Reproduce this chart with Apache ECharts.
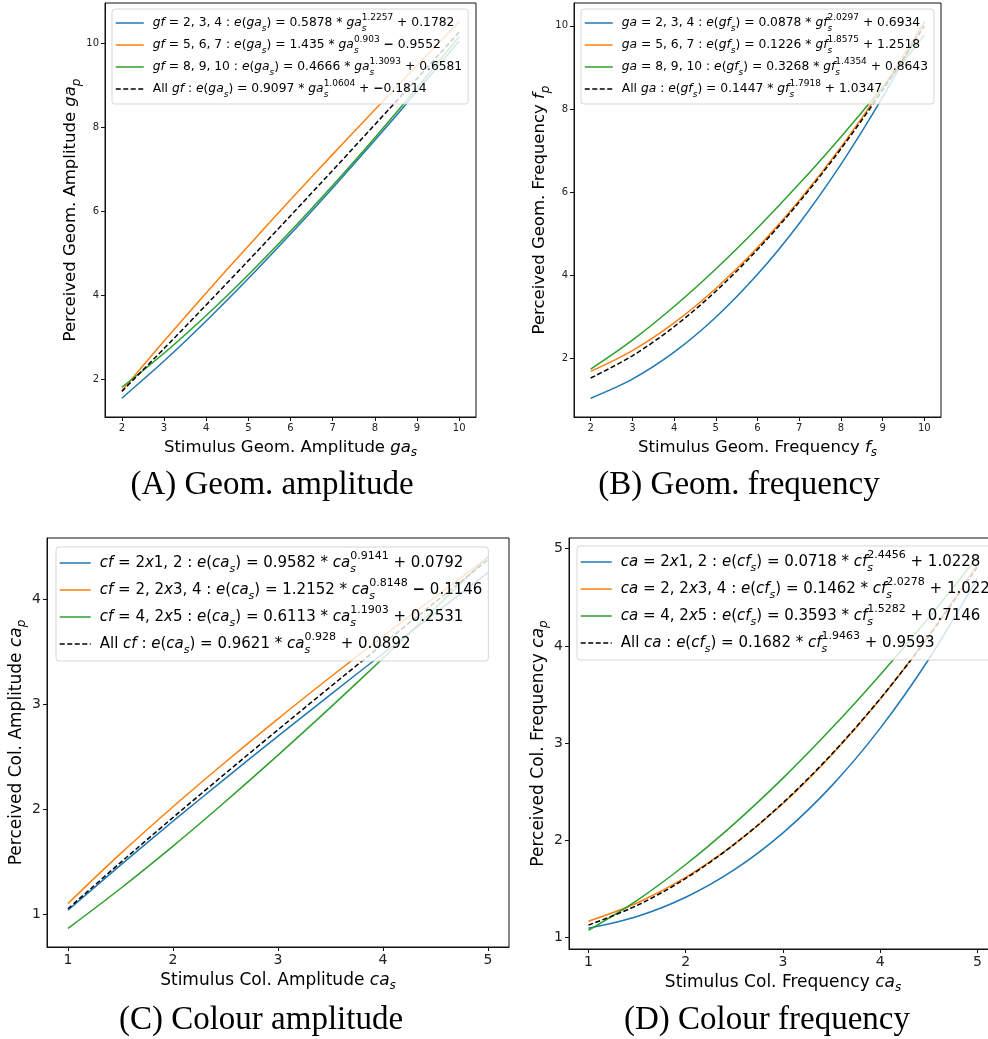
<!DOCTYPE html>
<html><head><meta charset="utf-8">
<script src="https://cdn.jsdelivr.net/npm/echarts@6/dist/echarts.min.js"></script>
<style>html,body{margin:0;padding:0;background:#fff}#c{width:988px;height:1039px}</style>
</head><body><div id="c"></div><script>
// ---------- data ----------
const xAB = [2, 3, 4, 5, 6, 7, 8, 9, 10];
const xCD = [1, 1.5, 2, 2.5, 3, 3.5, 4, 4.5, 5];

const aBlue   = [1.553, 2.438, 3.393, 4.404, 5.463, 6.562, 7.697, 8.865, 10.062];
const aOrange = [1.728, 2.914, 4.062, 5.182, 6.281, 7.363, 8.428, 9.480, 10.522];
const aGreen  = [1.814, 2.624, 3.524, 4.496, 5.531, 6.621, 7.760, 8.944, 10.170];
const aAll    = [1.716, 2.735, 3.775, 4.831, 5.901, 6.981, 8.071, 9.168, 10.274];

const bBlue   = [1.052, 1.510, 2.157, 2.996, 4.027, 5.251, 6.671, 8.285, 10.095];
const bOrange = [1.696, 2.195, 2.862, 3.689, 4.671, 5.804, 7.085, 8.512, 10.084];
const bGreen  = [1.748, 2.446, 3.255, 4.157, 5.143, 6.202, 7.330, 8.521, 9.773];
const bAll    = [1.536, 2.071, 2.770, 3.622, 4.622, 5.764, 7.043, 8.453, 9.995];

const cBlue   = [1.037, 1.467, 1.885, 2.293, 2.695, 3.091, 3.482, 3.869, 4.252];
const cOrange = [1.101, 1.576, 2.023, 2.449, 2.860, 3.258, 3.646, 4.024, 4.395];
const cGreen  = [0.864, 1.244, 1.648, 2.073, 2.514, 2.969, 3.437, 3.915, 4.405];
const cAll    = [1.051, 1.491, 1.920, 2.341, 2.756, 3.166, 3.572, 3.974, 4.373];

const dBlue   = [1.095, 1.216, 1.414, 1.698, 2.077, 2.560, 3.154, 3.865, 4.700];
const dOrange = [1.168, 1.355, 1.618, 1.960, 2.379, 2.877, 3.453, 4.109, 4.844];
const dGreen  = [1.074, 1.382, 1.751, 2.172, 2.640, 3.152, 3.704, 4.293, 4.918];
const dAll    = [1.128, 1.330, 1.608, 1.960, 2.386, 2.886, 3.458, 4.101, 4.816];

const xTicksAB = [2, 3, 4, 5, 6, 7, 8, 9, 10];
const yTicksAB = [2, 4, 6, 8, 10];
const xTicksCD = [1, 2, 3, 4, 5];
const yTicksC  = [1, 2, 3, 4];
const yTicksD  = [1, 2, 3, 4, 5];

const legendA = [
  '{pad| }{i|gf}{n| = 2, 3, 4 : }{i|e}{n|(}{i|ga}{sub|s}{n|) = 0.5878 * }{i|ga}{s0|s}{sup|1.2257}{n| + 0.1782}',
  '{pad| }{i|gf}{n| = 5, 6, 7 : }{i|e}{n|(}{i|ga}{sub|s}{n|) = 1.435 * }{i|ga}{s0|s}{sup|0.903}{n| }{m|−}{n| 0.9552}',
  '{pad| }{i|gf}{n| = 8, 9, 10 : }{i|e}{n|(}{i|ga}{sub|s}{n|) = 0.4666 * }{i|ga}{s0|s}{sup|1.3093}{n| + 0.6581}',
  '{pad| }{n|All }{i|gf}{n| : }{i|e}{n|(}{i|ga}{sub|s}{n|) = 0.9097 * }{i|ga}{s0|s}{sup|1.0604}{n| + }{m|−}{n|0.1814}'
];
const legendB = [
  '{pad| }{i|ga}{n| = 2, 3, 4 : }{i|e}{n|(}{i|gf}{sub|s}{n|) = 0.0878 * }{i|gf}{s0|s}{sup|2.0297}{n| + 0.6934}',
  '{pad| }{i|ga}{n| = 5, 6, 7 : }{i|e}{n|(}{i|gf}{sub|s}{n|) = 0.1226 * }{i|gf}{s0|s}{sup|1.8575}{n| + 1.2518}',
  '{pad| }{i|ga}{n| = 8, 9, 10 : }{i|e}{n|(}{i|gf}{sub|s}{n|) = 0.3268 * }{i|gf}{s0|s}{sup|1.4354}{n| + 0.8643}',
  '{pad| }{n|All }{i|ga}{n| : }{i|e}{n|(}{i|gf}{sub|s}{n|) = 0.1447 * }{i|gf}{s0|s}{sup|1.7918}{n| + 1.0347}'
];
const legendC = [
  '{pad| }{i|cf}{n| = 2}{i|x}{n|1, 2 : }{i|e}{n|(}{i|ca}{sub|s}{n|) = 0.9582 * }{i|ca}{s0|s}{sup|0.9141}{n| + 0.0792}',
  '{pad| }{i|cf}{n| = 2, 2}{i|x}{n|3, 4 : }{i|e}{n|(}{i|ca}{sub|s}{n|) = 1.2152 * }{i|ca}{s0|s}{sup|0.8148}{n| }{m|−}{n| 0.1146}',
  '{pad| }{i|cf}{n| = 4, 2}{i|x}{n|5 : }{i|e}{n|(}{i|ca}{sub|s}{n|) = 0.6113 * }{i|ca}{s0|s}{sup|1.1903}{n| + 0.2531}',
  '{pad| }{n|All }{i|cf}{n| : }{i|e}{n|(}{i|ca}{sub|s}{n|) = 0.9621 * }{i|ca}{s0|s}{sup|0.928}{n| + 0.0892}'
];
const legendD = [
  '{pad| }{i|ca}{n| = 2}{i|x}{n|1, 2 : }{i|e}{n|(}{i|cf}{sub|s}{n|) = 0.0718 * }{i|cf}{s0|s}{sup|2.4456}{n| + 1.0228}',
  '{pad| }{i|ca}{n| = 2, 2}{i|x}{n|3, 4 : }{i|e}{n|(}{i|cf}{sub|s}{n|) = 0.1462 * }{i|cf}{s0|s}{sup|2.0278}{n| + 1.0221}',
  '{pad| }{i|ca}{n| = 4, 2}{i|x}{n|5 : }{i|e}{n|(}{i|cf}{sub|s}{n|) = 0.3593 * }{i|cf}{s0|s}{sup|1.5282}{n| + 0.7146}',
  '{pad| }{n|All }{i|ca}{n| : }{i|e}{n|(}{i|cf}{sub|s}{n|) = 0.1682 * }{i|cf}{s0|s}{sup|1.9463}{n| + 0.9593}'
];

const xNames = ['Stimulus Geom. Amplitude {i|ga}{sub|s}', 'Stimulus Geom. Frequency {i|f}{sub|s}',
                'Stimulus Col. Amplitude {i|ca}{sub|s}', 'Stimulus Col. Frequency {i|ca}{sub|s}'];
const yNames = ['Perceived Geom. Amplitude {i|ga}{sub|p}', 'Perceived Geom. Frequency {i|f}{sub|p}',
                'Perceived Col. Amplitude {i|ca}{sub|p}', 'Perceived Col. Frequency {i|ca}{sub|p}'];
const captions = ['(A) Geom. amplitude', '(B) Geom. frequency', '(C) Colour amplitude', '(D) Colour frequency'];

// ---------- layout / style ----------
const F = 'DejaVu Sans';
const COLORS = ['#1f77b4', '#ff7f0e', '#2ca02c', '#000000'];
const panels = [
  {grid: {left: 105, top: 3, width: 371, height: 414}, x: [1.6, 10.4], y: [1.105, 10.97],
   xt: xTicksAB, yt: yTicksAB, xs: xAB, ys: [aBlue, aOrange, aGreen, aAll], leg: legendA,
   legPos: {left: 112, top: 9}, lfs: 12.3, llh: 20, lgap: 2, iw: 28, tfs: 10, nfs: 16.5, xGap: 19, yGap: 21,
   cap: [272, 485]},
  {grid: {left: 574, top: 3, width: 367, height: 414}, x: [1.6, 10.4], y: [0.6, 10.547],
   xt: xTicksAB, yt: yTicksAB, xs: xAB, ys: [bBlue, bOrange, bGreen, bAll], leg: legendB,
   legPos: {left: 581, top: 9}, lfs: 12.3, llh: 20, lgap: 2, iw: 28, tfs: 10, nfs: 16.5, xGap: 19, yGap: 18,
   cap: [739, 485]},
  {grid: {left: 47, top: 538, width: 462, height: 409}, x: [0.8, 5.2], y: [0.687, 4.582],
   xt: xTicksCD, yt: yTicksC, xs: xCD, ys: [cBlue, cOrange, cGreen, cAll], leg: legendC,
   legPos: {left: 56, top: 547}, lfs: 15, llh: 24, lgap: 3, iw: 31, tfs: 14, nfs: 17, xGap: 22, yGap: 19,
   cap: [261, 1020]},
  {grid: {left: 569, top: 538, width: 428, height: 411}, x: [0.8, 5.2], y: [0.882, 5.11],
   xt: xTicksCD, yt: yTicksD, xs: xCD, ys: [dBlue, dOrange, dGreen, dAll], leg: legendD,
   legPos: {left: 577, top: 546}, lfs: 15, llh: 24, lgap: 3, iw: 31, tfs: 14, nfs: 17, xGap: 22, yGap: 12,
   cap: [767, 1020]}
];

function rich(fs, lh) {
  const small = Math.round(fs * 0.7);
  const sl = Math.round(lh * 0.5);
  return {
    n:   {fontFamily: F, fontSize: fs, color: '#000', lineHeight: lh},
    i:   {fontFamily: F, fontSize: fs, color: '#000', lineHeight: lh, fontStyle: 'italic'},
    m:   {fontFamily: F, fontSize: fs, color: '#000', lineHeight: lh, fontWeight: 'bold'},
    pad: {fontFamily: F, fontSize: fs, lineHeight: lh, width: 4},
    sub: {fontFamily: F, fontSize: small, color: '#000', lineHeight: sl, verticalAlign: 'bottom', fontStyle: 'italic'},
    s0:  {fontFamily: F, fontSize: small, color: '#000', lineHeight: sl, verticalAlign: 'bottom', fontStyle: 'italic', width: 0},
    sup: {fontFamily: F, fontSize: small, color: '#000', lineHeight: sl, verticalAlign: 'top'}
  };
}

const labelMap = {};
const option = {
  animation: false,
  backgroundColor: '#fff',
  grid: [], xAxis: [], yAxis: [], series: [], legend: [], graphic: []
};

panels.forEach((p, g) => {
  option.grid.push(Object.assign({show: true, borderColor: '#111', borderWidth: 1, backgroundColor: '#fff',
    containLabel: false, outerBoundsMode: 'none'}, p.grid));
  const axisCommon = {
    type: 'value', gridIndex: g, splitLine: {show: false},
    axisLine: {show: true, onZero: false, lineStyle: {color: '#111', width: 1}},
    axisTick: {show: true, length: 4, inside: false, lineStyle: {color: '#111'}},
    nameLocation: 'middle',
    nameTextStyle: {fontFamily: F, fontSize: p.nfs, color: '#000', rich: rich(p.nfs, p.nfs + 6)}
  };
  option.xAxis.push(Object.assign({}, axisCommon, {
    min: p.x[0], max: p.x[1], name: xNames[g], nameGap: p.xGap,
    axisTick: Object.assign({}, axisCommon.axisTick, {customValues: p.xt}),
    axisLabel: {customValues: p.xt, fontFamily: F, fontSize: p.tfs, color: '#222', margin: 6}
  }));
  option.yAxis.push(Object.assign({}, axisCommon, {
    min: p.y[0], max: p.y[1], name: yNames[g], nameGap: p.yGap, nameRotate: 90,
    axisTick: Object.assign({}, axisCommon.axisTick, {customValues: p.yt}),
    axisLabel: {customValues: p.yt, fontFamily: F, fontSize: p.tfs, color: '#222', margin: 6}
  }));
  const names = [];
  p.ys.forEach((ys, k) => {
    const key = 'P' + g + 'S' + k;
    names.push(key);
    labelMap[key] = p.leg[k];
    option.series.push({
      type: 'line', name: key, xAxisIndex: g, yAxisIndex: g,
      data: p.xs.map((x, i) => [x, ys[i]]),
      symbol: 'none', smooth: 0.33, clip: true,
      lineStyle: {color: COLORS[k], width: 1.5, type: k === 3 ? [5, 2.5] : 'solid'},
      itemStyle: {color: COLORS[k]}
    });
  });
  option.legend.push({
    data: names, orient: 'vertical', left: p.legPos.left, top: p.legPos.top,
    selectedMode: false, itemWidth: p.iw, itemHeight: 12, itemGap: p.lgap,
    padding: [4, 6, 5, 3],
    backgroundColor: 'rgba(255,255,255,0.8)', borderColor: 'rgba(204,204,204,0.8)', borderWidth: 1, borderRadius: 3,
    formatter: name => labelMap[name],
    textStyle: {fontFamily: F, fontSize: p.lfs, color: '#000', rich: rich(p.lfs, p.llh)},
    itemStyle: {opacity: 0},
    lineStyle: {width: 1.5}
  });
  option.graphic.push({
    type: 'text', x: p.cap[0], y: p.cap[1], z: 10,
    style: {text: captions[g], fontFamily: 'Liberation Serif', fontSize: 33, fill: '#000',
            textAlign: 'center', textVerticalAlign: 'middle'}
  });
});

const chart = echarts.init(document.getElementById('c'), null, {renderer: 'canvas'});
chart.setOption(option);
</script></body></html>
